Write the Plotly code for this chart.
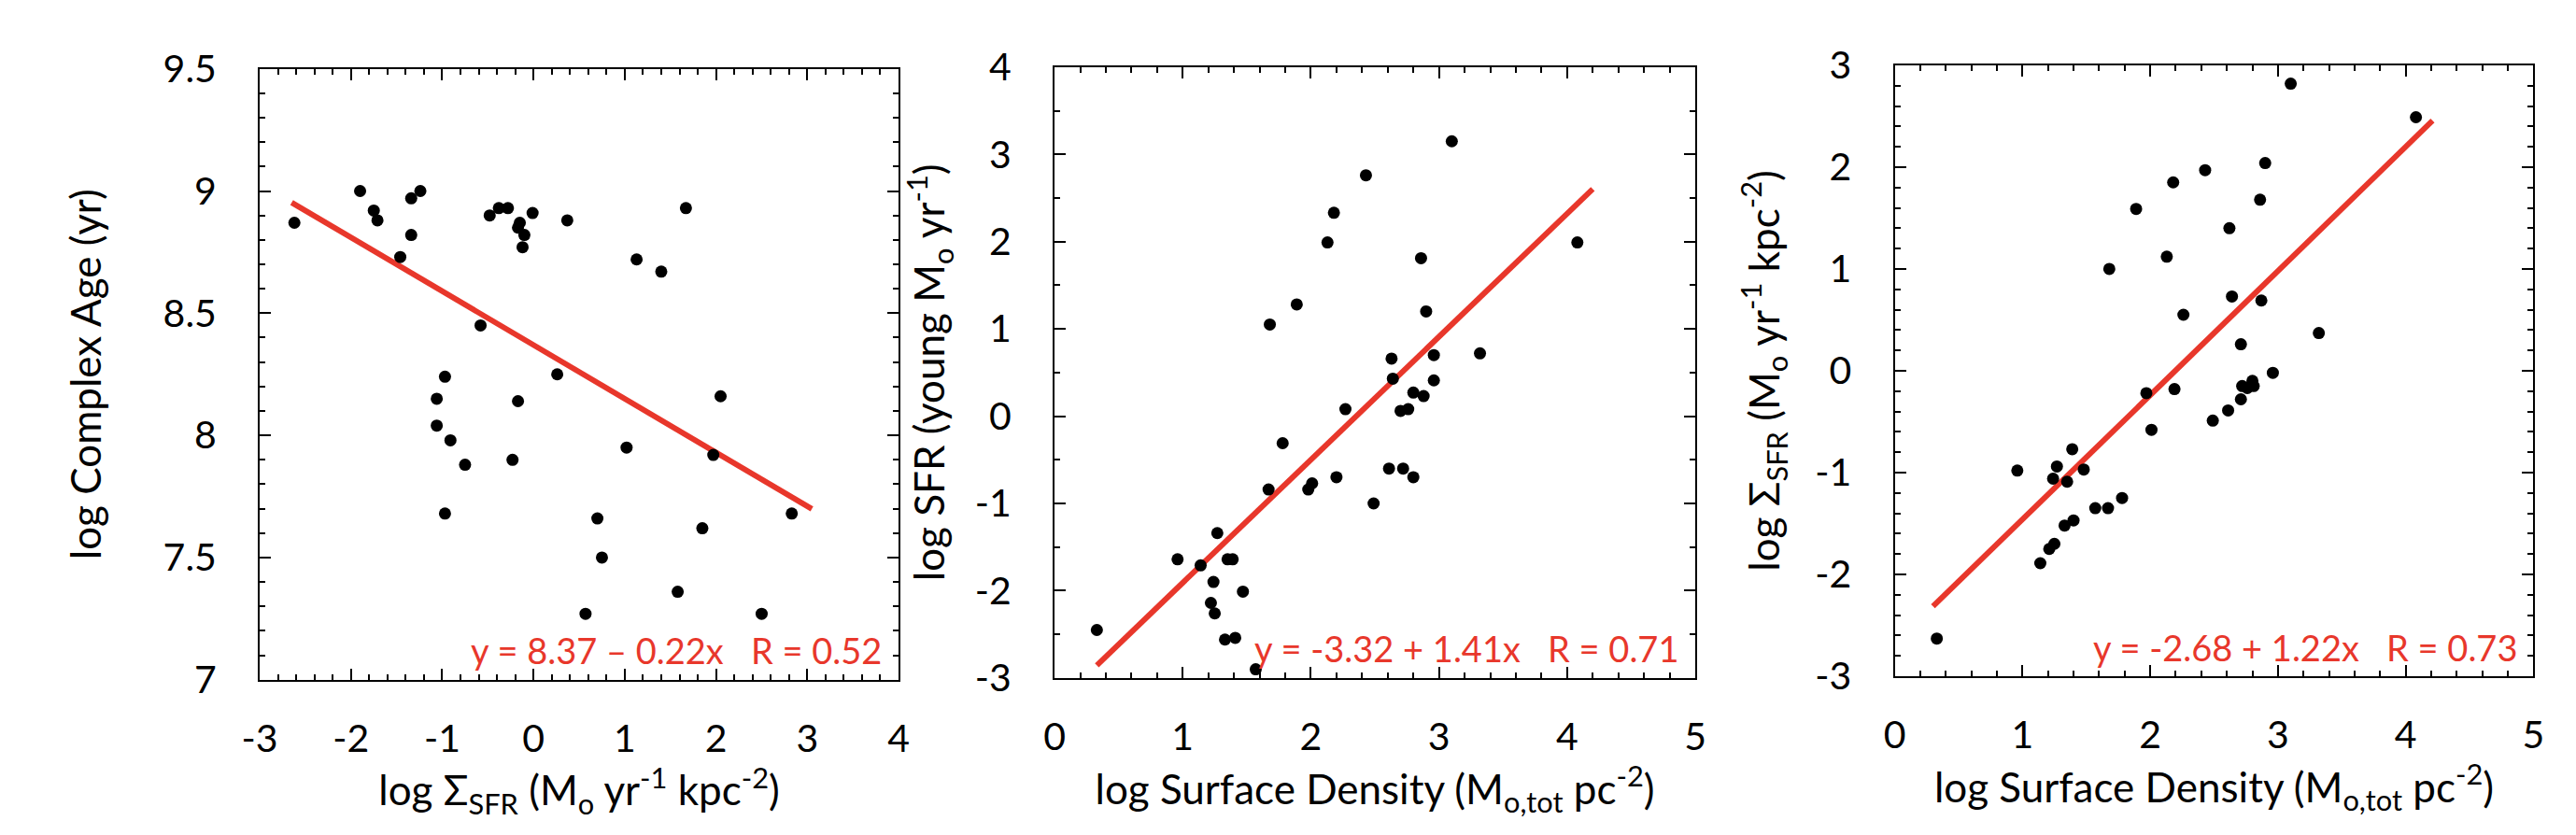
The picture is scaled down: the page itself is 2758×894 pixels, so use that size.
import plotly.graph_objects as go

# panel 1: log Sigma_SFR vs log complex age
p1_x = [-2.62, -1.90, -1.75, -1.71, -1.46, -1.34, -1.34, -1.24, -0.48, -0.38,
        -0.28, -0.15, -0.17, -0.10, -0.12, -0.01, 0.37, -0.58, -0.97, -1.06,
        -1.06, -0.91, -0.75, -0.97, -0.17, -0.23, 0.26, 1.13, 1.40, 1.67,
        2.05, 1.97, 1.02, 0.70, 0.75, 0.57, 1.85, 1.58, 2.50, 2.83]
p1_y = [8.87, 9.00, 8.92, 8.88, 8.73, 8.82, 8.97, 9.00, 8.90, 8.93,
        8.93, 8.87, 8.85, 8.82, 8.77, 8.91, 8.88, 8.45, 8.24, 8.15,
        8.04, 7.98, 7.88, 7.68, 8.14, 7.90, 8.25, 8.72, 8.67, 8.93,
        8.16, 7.92, 7.95, 7.66, 7.50, 7.27, 7.62, 7.36, 7.27, 7.68]

# panel 2: log surface density vs log SFR
p2_x = [0.33, 0.96, 1.14, 1.24, 1.22, 1.25, 1.27, 1.35, 1.39, 1.47,
        1.33, 1.41, 1.57, 1.67, 1.68, 1.78, 1.89, 1.98, 2.01, 2.13,
        2.18, 2.20, 2.27, 2.43, 2.49, 2.61, 2.63, 2.64, 2.70, 2.76,
        2.72, 2.80, 2.80, 2.88, 2.86, 2.90, 2.96, 2.96, 3.10, 3.32, 4.08]
p2_y = [-2.45, -1.64, -1.71, -1.90, -2.14, -2.26, -1.34, -1.64, -1.64, -2.01,
        -2.56, -2.54, -2.90, -0.84, 1.05, -0.31, 1.28, -0.84, -0.77, 1.99,
        2.33, -0.70, 0.08, 2.76, -1.00, -0.60, 0.66, 0.43, 0.06, 0.08,
        -0.60, -0.70, 0.27, 0.23, 1.81, 1.20, 0.70, 0.41, 3.15, 0.72, 1.99]

# panel 3: log surface density vs log Sigma_SFR
p3_x = [0.33, 0.96, 1.14, 1.21, 1.25, 1.24, 1.27, 1.35, 1.33, 1.40,
        1.39, 1.48, 1.57, 1.67, 1.78, 1.68, 1.89, 1.97, 2.01, 2.13,
        2.18, 2.19, 2.26, 2.43, 2.49, 2.61, 2.62, 2.64, 2.71, 2.71,
        2.72, 2.76, 2.80, 2.81, 2.86, 2.87, 2.90, 2.96, 3.10, 3.32, 4.08]
p3_y = [-2.63, -0.98, -1.89, -1.75, -1.70, -1.06, -0.94, -1.09, -1.52, -1.47,
        -0.77, -0.97, -1.35, -1.35, -1.25, 1.00, 1.59, -0.22, -0.58, 1.12,
        1.85, -0.18, 0.55, 1.97, -0.49, -0.39, 1.40, 0.73, 0.26, -0.28,
        -0.15, -0.17, -0.10, -0.15, 1.68, 0.69, 2.04, -0.02, 2.82, 0.37, 2.49]

# fits: intercept, slope, x extent of the drawn line
fit_a = [8.37, -3.32, -2.68]
fit_b = [-0.22, 1.41, 1.22]
fit_x = [[-2.65, 3.05], [0.33, 4.20], [0.30, 4.21]]
fit_text = ["y = 8.37 \u2013 0.22x\u00a0\u00a0\u00a0R = 0.52",
            "y = -3.32 + 1.41x\u00a0\u00a0\u00a0R = 0.71",
            "y = -2.68 + 1.22x\u00a0\u00a0\u00a0R = 0.73"]

x_titles = ["log \u03a3<sub>SFR</sub> (M<sub>o</sub> yr<sup>-1</sup> kpc<sup>-2</sup>)",
            "log Surface Density (M<sub>o,tot</sub> pc<sup>-2</sup>)",
            "log Surface Density (M<sub>o,tot</sub> pc<sup>-2</sup>)"]
y_titles = ["log Complex Age (yr)",
            "log SFR (young M<sub>o</sub> yr<sup>-1</sup>)",
            "log \u03a3<sub>SFR</sub> (M<sub>o</sub> yr<sup>-1</sup> kpc<sup>-2</sup>)"]

# tick values and labels (plain hyphen minus, as in the original)
x_tickvals = [[-3, -2, -1, 0, 1, 2, 3, 4], [0, 1, 2, 3, 4, 5], [0, 1, 2, 3, 4, 5]]
x_ticktext = [["-3", "-2", "-1", "0", "1", "2", "3", "4"],
              ["0", "1", "2", "3", "4", "5"], ["0", "1", "2", "3", "4", "5"]]
y_tickvals = [[7, 7.5, 8, 8.5, 9, 9.5], [-3, -2, -1, 0, 1, 2, 3, 4], [-3, -2, -1, 0, 1, 2, 3]]
y_ticktext = [["7", "7.5", "8", "8.5", "9", "9.5"],
              ["-3", "-2", "-1", "0", "1", "2", "3", "4"],
              ["-3", "-2", "-1", "0", "1", "2", "3"]]
x_minor = [0.2, 0.2, 0.2]
y_minor = [0.1, 0.5, 0.2]

W, H = 2758, 894
x_dom = [[253 / W, 945 / W], [1114 / W, 1808 / W], [2024 / W, 2716 / W]]
y_dom = [[1 - 734 / H, 1 - 42 / H], [1 - 732 / H, 1 - 40 / H], [1 - 730 / H, 1 - 38 / H]]
y_standoff = [52, 18, 24]

RED = "#E8372B"
FONT = "Lato"

xs = [p1_x, p2_x, p3_x]
ys = [p1_y, p2_y, p3_y]

fig = go.Figure()
layout = dict(width=W, height=H, margin=dict(l=0, r=0, t=0, b=0),
              paper_bgcolor="white", plot_bgcolor="white", showlegend=False,
              font=dict(family=FONT, color="black"))
annotations = []

for i in range(3):
    sfx = "" if i == 0 else str(i + 1)
    fig.add_trace(go.Scatter(x=fit_x[i], y=[fit_a[i] + fit_b[i] * v for v in fit_x[i]],
                             mode="lines", line=dict(color=RED, width=6),
                             xaxis="x" + sfx, yaxis="y" + sfx))
    fig.add_trace(go.Scatter(x=xs[i], y=ys[i], mode="markers",
                             marker=dict(color="black", size=13, symbol="circle"),
                             xaxis="x" + sfx, yaxis="y" + sfx))

    common = dict(showline=True, linecolor="black", linewidth=2, mirror="allticks",
                  ticks="inside", ticklen=12, tickwidth=2, tickcolor="black",
                  showgrid=False, zeroline=False, tickfont=dict(size=41, family=FONT),
                  tickmode="array")
    minor = dict(ticks="inside", ticklen=6, tickwidth=2, tickcolor="black", showgrid=False)
    layout["xaxis" + sfx] = dict(common, domain=x_dom[i],
                                 range=[x_tickvals[i][0], x_tickvals[i][-1]],
                                 anchor="y" + sfx, tickvals=x_tickvals[i], ticktext=x_ticktext[i],
                                 ticklabelstandoff=26,
                                 minor=dict(minor, dtick=x_minor[i], tick0=0),
                                 title=dict(text=x_titles[i], font=dict(size=44, family=FONT),
                                            standoff=18))
    layout["yaxis" + sfx] = dict(common, domain=y_dom[i],
                                 range=[y_tickvals[i][0], y_tickvals[i][-1]],
                                 anchor="x" + sfx, tickvals=y_tickvals[i], ticktext=y_ticktext[i],
                                 ticklabelstandoff=36,
                                 minor=dict(minor, dtick=y_minor[i], tick0=0),
                                 title=dict(text=y_titles[i], font=dict(size=44, family=FONT),
                                            standoff=y_standoff[i]))
    annotations.append(dict(text=fit_text[i], xref="x" + sfx + " domain", yref="y" + sfx + " domain",
                            x=0.977, y=0.048, xanchor="right", yanchor="middle", showarrow=False,
                            font=dict(size=38, color=RED, family=FONT)))

layout["annotations"] = annotations
fig.update_layout(**layout)
fig.write_html("out.html")
